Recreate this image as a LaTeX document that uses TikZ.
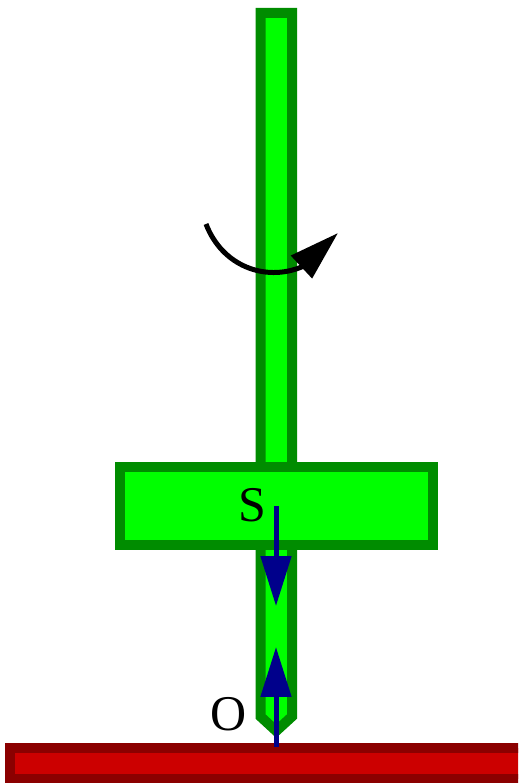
\documentclass[tikz,border=0pt]{standalone}
\usepackage{fontspec}
\setmainfont{Liberation Serif}
\usetikzlibrary{arrows.meta}
\definecolor{piaoverde}{HTML}{008C00}
\definecolor{piaolima}{HTML}{00FF00}
\definecolor{mesavermelho}{HTML}{CC0000}
\definecolor{mesaescuro}{HTML}{8B0000}
\definecolor{forcaazul}{HTML}{00008B}
\tikzset{
  piaocorpo/.style={draw=piaoverde, fill=piaolima, line width=2mm, miter limit=10},
  mesabase/.style={draw=mesaescuro, fill=mesavermelho, line width=2mm},
  forcaseta/.style={-{Triangle[length=1cm, width=6mm]}, draw=forcaazul, line width=1mm},
  giroseta/.style={-{Triangle[length=1cm, width=6mm]}, draw=black, line width=1mm},
  rotulo/.style={font=\fontsize{28.45}{30}\selectfont, inner sep=0pt},
}
\begin{document}
\begin{tikzpicture}[x=0.02cm, y=-0.02cm]
    \clip (0,0) rectangle (518,783);
    \fill[white] (0,0) rectangle (518,783);
    % mesa
    \draw[mesabase] (10,748) rectangle (540,778.5);
    % eixo com a ponta
    \draw[piaocorpo] (260.5,13) -- (292,13) -- (292,716.5) -- (276.2,731) -- (260.5,716.5) -- cycle;
    % disco
    \draw[piaocorpo] (120,466.5) rectangle (433,545);
    % rotulos
    \node[rotulo] (s) at (252,505) {S};
    \node[rotulo] (o) at (229,714) {O};
    % forcas
    \coordinate (peso0) at (276,506);
    \coordinate (peso1) at (276,606);
    \coordinate (normal0) at (276,747);
    \coordinate (normal1) at (276,647);
    \draw[forcaseta] (peso0) -- (peso1);
    \draw[forcaseta] (normal0) -- (normal1);
    % sentido do giro
    \coordinate (giro0) at (206,224);
    \coordinate (giro2) at (301.5,267);
    \coordinate (giro1) at (338,233);
    \draw[giroseta] (giro0) .. controls (222,266) and (265,282) .. (giro2) -- (giro1);
\end{tikzpicture}
\end{document}
